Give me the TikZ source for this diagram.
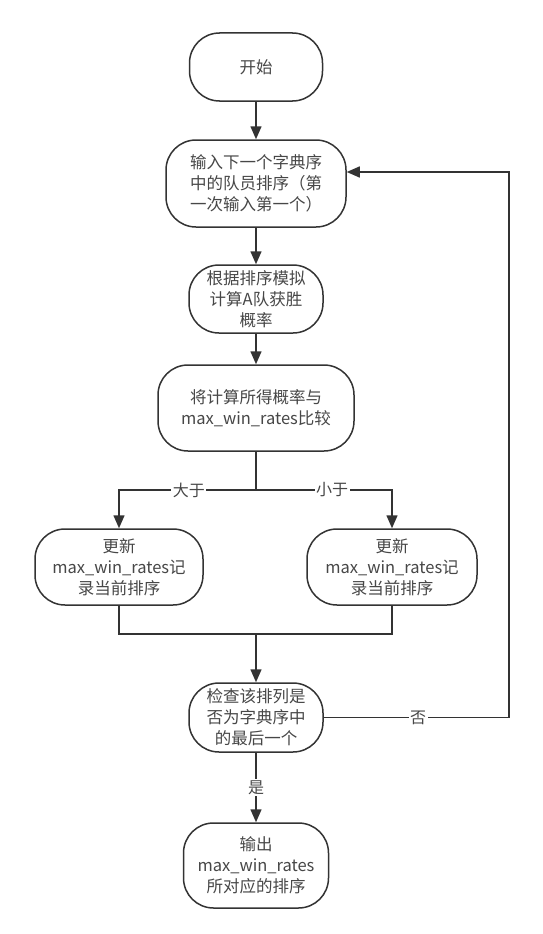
\documentclass[tikz,border=0pt]{standalone}
\usepackage{fontspec}
\setmainfont{Noto Sans CJK SC}
\usetikzlibrary{arrows.meta}
\tikzset{
  term/.style={draw=black!80, line width=1.5pt, rounded corners=30pt, align=center,
    text=black!72, font=\fontsize{16.5}{21}\selectfont, inner sep=0pt},
  flow/.style={draw=black!80, line width=1.5pt, -{Triangle[length=13pt,width=11pt]}},
  link/.style={draw=black!80, line width=1.5pt},
  tag/.style={fill=white, text=black!72, font=\fontsize{16}{18}\selectfont, inner sep=1.5pt}
}
\begin{document}
\begin{tikzpicture}[x=1pt,y=-1pt]
                    \path[fill=white] (0,0) rectangle (542,934);
                    \node[term, minimum width=133pt, minimum height=68pt] (start) at (256,67) {开始};
                    \node[term, minimum width=180pt, minimum height=87pt] (input) at (256,183.5) {输入下一个字典序\\中的队员排序（第\\一次输入第一个）};
                    \node[term, minimum width=134pt, minimum height=68pt] (sim) at (256,299) {根据排序模拟\\计算A队获胜\\概率};
                    \node[term, minimum width=196pt, minimum height=86pt] (cmp) at (256,408) {将计算所得概率与\\max\_win\_rates比较};
                    \node[term, minimum width=168pt, minimum height=76pt] (updl) at (119,567) {更新\\max\_win\_rates记\\录当前排序};
                    \node[term, minimum width=170pt, minimum height=76pt] (updr) at (392,567) {更新\\max\_win\_rates记\\录当前排序};
                    \node[term, minimum width=134pt, minimum height=69pt] (check) at (256,717.5) {检查该排列是\\否为字典序中\\的最后一个};
                    \node[term, minimum width=145pt, minimum height=85pt] (out) at (256,865.5) {输出\\max\_win\_rates\\所对应的排序};
                    \coordinate (split) at (256,490);
                    \coordinate (merge) at (256,634);
                    \coordinate (loop) at (509,172);
                    \draw[flow] (start) -- (input);
                    \draw[flow] (input) -- (sim);
                    \draw[flow] (sim) -- (cmp);
                    \draw[link] (cmp) -- (split);
                    \draw[flow] (split) -| node[tag, pos=0.245] {大于} (updl);
                    \draw[flow] (split) -| node[tag, pos=0.28] {小于} (updr);
                    \draw[link] (updl) |- (merge);
                    \draw[link] (updr) |- (merge);
                    \draw[flow] (merge) -- (check);
                    \draw[flow] (check) -- node[tag] {是} (out);
                    \draw[flow] (check.east) -| node[tag, pos=0.255] {否} (loop) -- (input.east |- loop);
                \end{tikzpicture}
\end{document}
